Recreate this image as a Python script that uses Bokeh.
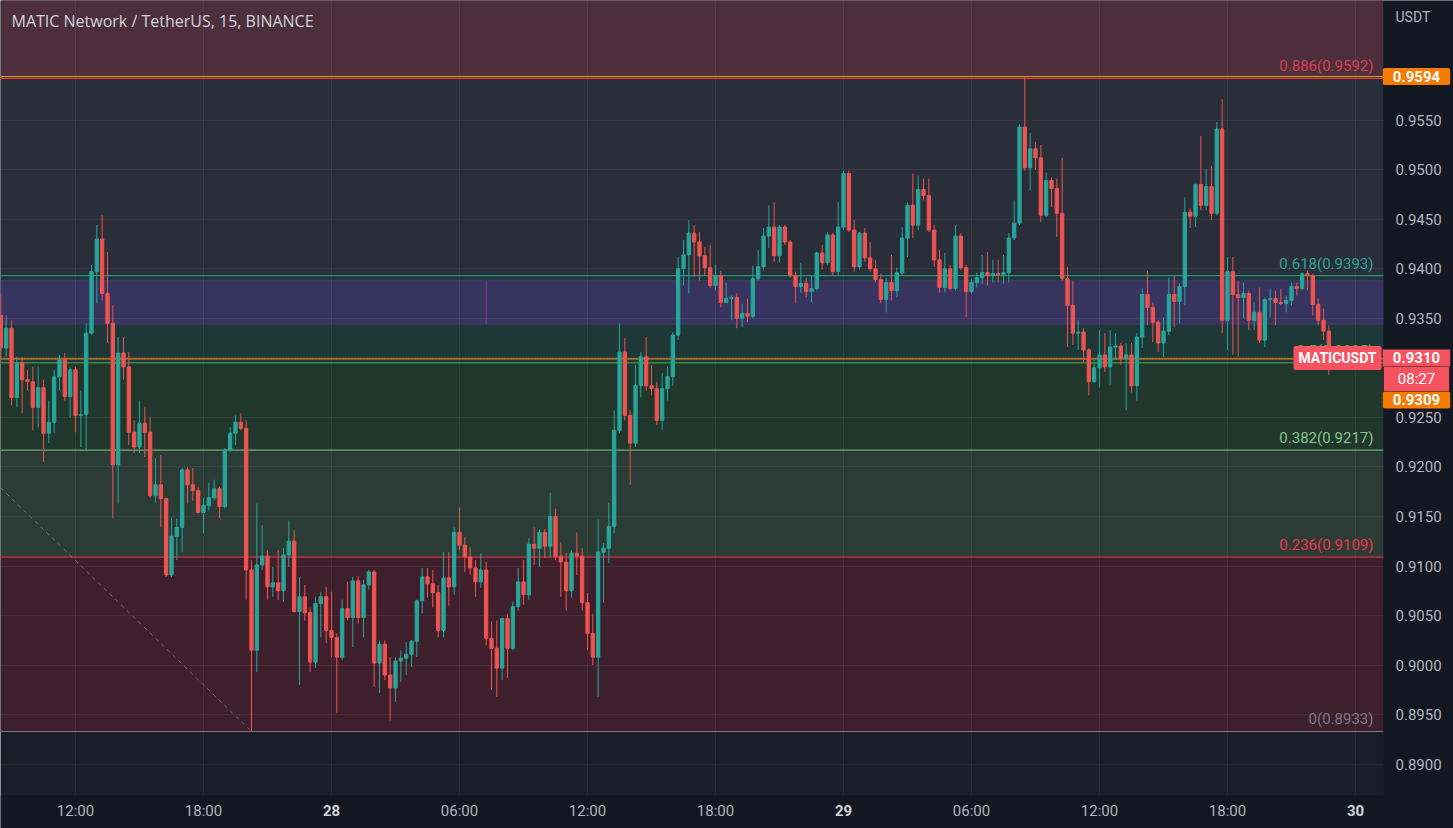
import numpy as np
from bokeh.plotting import figure
from bokeh.models import Range1d, FixedTicker, Span, BoxAnnotation, Label, ColumnDataSource
from bokeh.core.properties import value
from bokeh.embed import file_html
from bokeh.resources import INLINE

title_text = "MATIC Network / TetherUS, 15, BINANCE"
# 15-minute bars; bar 0 = 27th 12:00
bars = list(range(-14, 236))

opens = [
    0.9353,0.9320,0.9340,0.9270,0.9305,0.9288,0.9286,0.9260,0.9280,0.9234,
    0.9245,0.9291,0.9308,0.9271,0.9298,0.9252,0.9253,0.9335,0.9397,0.9430,
    0.9375,0.9345,0.9202,0.9315,0.9301,0.9235,0.9220,0.9244,0.9235,0.9171,
    0.9182,0.9168,0.9091,0.9130,0.9139,0.9197,0.9182,0.9176,0.9154,0.9161,
    0.9169,0.9178,0.9160,0.9217,0.9234,0.9245,0.9239,0.9096,0.9015,0.9101,
    0.9110,0.9079,0.9083,0.9075,0.9111,0.9125,0.9054,0.9069,0.9053,0.9003,
    0.9062,0.9069,0.9035,0.9028,0.9008,0.9057,0.9048,0.9085,0.9048,0.9081,
    0.9094,0.9002,0.9021,0.8990,0.8977,0.9004,0.9007,0.9011,0.9024,0.9065,
    0.9089,0.9082,0.9073,0.9035,0.9088,0.9079,0.9134,0.9121,0.9109,0.9098,
    0.9084,0.9096,0.9027,0.9017,0.8997,0.9047,0.9017,0.9059,0.9084,0.9071,
    0.9122,0.9118,0.9134,0.9120,0.9150,0.9110,0.9104,0.9075,0.9113,0.9110,
    0.9063,0.9032,0.9008,0.9114,0.9118,0.9140,0.9237,0.9316,0.9252,0.9224,
    0.9282,0.9311,0.9282,0.9279,0.9247,0.9279,0.9291,0.9333,0.9400,0.9414,
    0.9436,0.9427,0.9413,0.9401,0.9383,0.9393,0.9366,0.9370,0.9371,0.9350,
    0.9355,0.9352,0.9390,0.9402,0.9433,0.9442,0.9413,0.9442,0.9427,0.9393,
    0.9382,0.9385,0.9377,0.9380,0.9416,0.9406,0.9434,0.9397,0.9442,0.9496,
    0.9439,0.9402,0.9436,0.9411,0.9400,0.9389,0.9369,0.9386,0.9378,0.9396,
    0.9431,0.9464,0.9444,0.9480,0.9474,0.9439,0.9409,0.9381,0.9400,0.9380,
    0.9433,0.9401,0.9377,0.9386,0.9391,0.9396,0.9393,0.9395,0.9394,0.9396,
    0.9431,0.9446,0.9543,0.9502,0.9521,0.9512,0.9454,0.9489,0.9481,0.9456,
    0.9390,0.9363,0.9335,0.9336,0.9318,0.9286,0.9300,0.9313,0.9301,0.9321,
    0.9322,0.9310,0.9313,0.9282,0.9331,0.9374,0.9361,0.9346,0.9325,0.9337,
    0.9374,0.9367,0.9382,0.9457,0.9453,0.9485,0.9464,0.9483,0.9456,0.9541,
    0.9348,0.9397,0.9374,0.9371,0.9375,0.9348,0.9356,0.9328,0.9369,0.9370,
    0.9366,0.9365,0.9368,0.9382,0.9380,0.9395,0.9393,0.9364,0.9348,0.9337,
]
highs = [
    0.9375,0.9353,0.9348,0.9311,0.9311,0.9298,0.9301,0.9301,0.9288,0.9267,
    0.9298,0.9313,0.9315,0.9301,0.9301,0.9277,0.9345,0.9404,0.9444,0.9454,
    0.9417,0.9363,0.9331,0.9331,0.9316,0.9247,0.9267,0.9260,0.9250,0.9209,
    0.9212,0.9169,0.9149,0.9148,0.9199,0.9200,0.9199,0.9180,0.9169,0.9184,
    0.9187,0.9180,0.9219,0.9240,0.9252,0.9254,0.9247,0.9106,0.9163,0.9141,
    0.9116,0.9099,0.9116,0.9118,0.9146,0.9136,0.9089,0.9081,0.9058,0.9069,
    0.9074,0.9079,0.9074,0.9032,0.9066,0.9084,0.9089,0.9090,0.9086,0.9096,
    0.9096,0.9025,0.9025,0.9008,0.9008,0.9015,0.9023,0.9025,0.9066,0.9098,
    0.9098,0.9096,0.9081,0.9114,0.9114,0.9139,0.9159,0.9129,0.9119,0.9106,
    0.9113,0.9104,0.9044,0.9045,0.9048,0.9052,0.9064,0.9098,0.9106,0.9128,
    0.9139,0.9137,0.9137,0.9174,0.9158,0.9124,0.9113,0.9116,0.9134,0.9118,
    0.9073,0.9052,0.9147,0.9123,0.9164,0.9257,0.9345,0.9330,0.9257,0.9303,
    0.9316,0.9331,0.9303,0.9286,0.9295,0.9301,0.9336,0.9412,0.9429,0.9449,
    0.9444,0.9437,0.9422,0.9424,0.9404,0.9398,0.9386,0.9373,0.9375,0.9365,
    0.9370,0.9403,0.9419,0.9441,0.9464,0.9467,0.9444,0.9444,0.9429,0.9397,
    0.9406,0.9391,0.9393,0.9417,0.9424,0.9437,0.9436,0.9467,0.9499,0.9499,
    0.9449,0.9437,0.9441,0.9427,0.9409,0.9395,0.9391,0.9414,0.9401,0.9442,
    0.9467,0.9496,0.9494,0.9491,0.9491,0.9444,0.9419,0.9416,0.9404,0.9444,
    0.9436,0.9404,0.9390,0.9396,0.9414,0.9417,0.9409,0.9409,0.9414,0.9436,
    0.9469,0.9546,0.9594,0.9537,0.9528,0.9525,0.9497,0.9492,0.9491,0.9512,
    0.9402,0.9388,0.9348,0.9340,0.9320,0.9308,0.9338,0.9335,0.9338,0.9335,
    0.9325,0.9325,0.9325,0.9335,0.9380,0.9398,0.9366,0.9348,0.9351,0.9391,
    0.9393,0.9385,0.9472,0.9461,0.9486,0.9534,0.9501,0.9504,0.9548,0.9571,
    0.9412,0.9412,0.9388,0.9386,0.9378,0.9366,0.9381,0.9371,0.9380,0.9378,
    0.9380,0.9373,0.9386,0.9386,0.9396,0.9398,0.9395,0.9370,0.9360,0.9343,
]
lows = [
    0.9308,0.9311,0.9262,0.9260,0.9254,0.9277,0.9237,0.9240,0.9205,0.9224,
    0.9234,0.9277,0.9267,0.9250,0.9235,0.9220,0.9217,0.9333,0.9365,0.9368,
    0.9325,0.9148,0.9163,0.9288,0.9222,0.9214,0.9214,0.9210,0.9169,0.9164,
    0.9139,0.9089,0.9089,0.9106,0.9114,0.9163,0.9166,0.9153,0.9133,0.9156,
    0.9166,0.9148,0.9158,0.9215,0.9222,0.9237,0.9066,0.8933,0.8993,0.9096,
    0.9066,0.9069,0.9066,0.9064,0.9099,0.9053,0.8980,0.9045,0.8993,0.8997,
    0.9028,0.9022,0.9008,0.8952,0.9005,0.9045,0.9018,0.9042,0.9028,0.9076,
    0.8978,0.8972,0.8985,0.8944,0.8963,0.8983,0.8990,0.8998,0.9008,0.9052,
    0.9068,0.9058,0.9028,0.9028,0.9060,0.9071,0.9116,0.9094,0.9091,0.9069,
    0.9078,0.9020,0.8975,0.8968,0.8985,0.8987,0.9015,0.9055,0.9061,0.9066,
    0.9101,0.9099,0.9108,0.9109,0.9106,0.9069,0.9055,0.9068,0.9091,0.9055,
    0.9015,0.9000,0.8968,0.9063,0.9103,0.9133,0.9234,0.9247,0.9182,0.9220,
    0.9270,0.9277,0.9272,0.9242,0.9237,0.9267,0.9282,0.9328,0.9383,0.9375,
    0.9392,0.9388,0.9393,0.9381,0.9378,0.9361,0.9365,0.9348,0.9340,0.9341,
    0.9346,0.9350,0.9388,0.9399,0.9421,0.9407,0.9406,0.9424,0.9391,0.9365,
    0.9376,0.9371,0.9366,0.9378,0.9399,0.9404,0.9393,0.9393,0.9439,0.9437,
    0.9397,0.9399,0.9407,0.9397,0.9386,0.9365,0.9356,0.9368,0.9371,0.9393,
    0.9412,0.9431,0.9439,0.9469,0.9437,0.9402,0.9376,0.9376,0.9378,0.9378,
    0.9399,0.9351,0.9375,0.9381,0.9385,0.9383,0.9386,0.9386,0.9385,0.9386,
    0.9429,0.9444,0.9499,0.9479,0.9500,0.9447,0.9452,0.9462,0.9432,0.9388,
    0.9321,0.9323,0.9318,0.9305,0.9272,0.9285,0.9280,0.9296,0.9283,0.9308,
    0.9303,0.9257,0.9275,0.9267,0.9320,0.9343,0.9326,0.9316,0.9311,0.9333,
    0.9341,0.9345,0.9363,0.9441,0.9442,0.9459,0.9459,0.9449,0.9454,0.9335,
    0.9318,0.9313,0.9311,0.9350,0.9338,0.9338,0.9325,0.9321,0.9351,0.9343,
    0.9363,0.9356,0.9363,0.9373,0.9378,0.9378,0.9353,0.9343,0.9328,0.9293,
]
closes = [
    0.9320,0.9340,0.9270,0.9305,0.9288,0.9286,0.9260,0.9280,0.9234,0.9245,
    0.9291,0.9308,0.9271,0.9298,0.9252,0.9253,0.9335,0.9397,0.9430,0.9375,
    0.9345,0.9202,0.9315,0.9301,0.9235,0.9220,0.9244,0.9235,0.9171,0.9182,
    0.9168,0.9091,0.9130,0.9139,0.9197,0.9182,0.9176,0.9154,0.9161,0.9169,
    0.9178,0.9160,0.9217,0.9234,0.9245,0.9239,0.9096,0.9015,0.9101,0.9110,
    0.9079,0.9083,0.9075,0.9111,0.9125,0.9054,0.9069,0.9053,0.9003,0.9062,
    0.9069,0.9035,0.9028,0.9008,0.9057,0.9048,0.9085,0.9048,0.9081,0.9094,
    0.9002,0.9021,0.8990,0.8977,0.9004,0.9007,0.9011,0.9024,0.9065,0.9089,
    0.9082,0.9073,0.9035,0.9088,0.9079,0.9134,0.9121,0.9109,0.9098,0.9084,
    0.9096,0.9027,0.9017,0.8997,0.9047,0.9017,0.9059,0.9084,0.9071,0.9122,
    0.9118,0.9134,0.9120,0.9150,0.9110,0.9104,0.9075,0.9113,0.9110,0.9063,
    0.9032,0.9008,0.9114,0.9118,0.9140,0.9237,0.9316,0.9252,0.9224,0.9282,
    0.9311,0.9282,0.9279,0.9247,0.9279,0.9291,0.9333,0.9400,0.9414,0.9436,
    0.9427,0.9413,0.9401,0.9383,0.9393,0.9366,0.9370,0.9371,0.9350,0.9355,
    0.9352,0.9390,0.9402,0.9433,0.9442,0.9413,0.9442,0.9427,0.9393,0.9382,
    0.9385,0.9377,0.9380,0.9416,0.9406,0.9434,0.9397,0.9442,0.9496,0.9439,
    0.9402,0.9436,0.9411,0.9400,0.9389,0.9369,0.9386,0.9378,0.9396,0.9431,
    0.9464,0.9444,0.9480,0.9474,0.9439,0.9409,0.9381,0.9400,0.9380,0.9433,
    0.9401,0.9377,0.9386,0.9391,0.9396,0.9393,0.9395,0.9394,0.9396,0.9431,
    0.9446,0.9543,0.9502,0.9521,0.9512,0.9454,0.9489,0.9481,0.9456,0.9390,
    0.9363,0.9335,0.9336,0.9318,0.9286,0.9300,0.9313,0.9301,0.9321,0.9322,
    0.9310,0.9313,0.9282,0.9331,0.9374,0.9361,0.9346,0.9325,0.9337,0.9374,
    0.9367,0.9382,0.9457,0.9453,0.9485,0.9464,0.9483,0.9456,0.9541,0.9348,
    0.9397,0.9374,0.9371,0.9375,0.9348,0.9356,0.9328,0.9369,0.9370,0.9366,
    0.9365,0.9368,0.9382,0.9380,0.9395,0.9393,0.9364,0.9348,0.9337,0.9310,
]

# Fibonacci retracement levels
fib_ratios = ["0.886", "0.618", "0.5", "0.382", "0.236", "0"]
fib_prices = [0.9592, 0.9393, 0.9305, 0.9217, 0.9109, 0.8933]
fib_line_colors = ["#e5484d", "#22ab94", "#4caf50", "#81c784", "#f23645", "#787b86"]
fib_text_colors = ["#d9404f", "#26a69a", "#4caf50", "#81c784", "#f23645", "#787b86"]
fib_top = 0.9677
zone_colors = ["#4d2f3b", "#2a2e39", "#1e3838", "#21372e", "#2b3c37", "#3e202c"]

box_top, box_bottom, box_split_bar = 0.9388, 0.9344, 77
high_line = 0.9594
hline_price = 0.9309
last_price = 0.9310
countdown = "08:27"
trend_x = [-14.06, 33]
trend_y = [0.9179, 0.8933]

price_ticks = [0.8900, 0.8950, 0.9000, 0.9050, 0.9100, 0.9150, 0.9200, 0.9250,
               0.9350, 0.9400, 0.9450, 0.9500, 0.9550]
time_ticks = [0, 24, 48, 72, 96, 120, 144, 168, 192, 216, 240]
time_labels = ["12:00", "18:00", "28", "06:00", "12:00", "18:00", "29", "06:00", "12:00", "18:00", "30"]
day_labels = {"28", "29", "30"}

UP, DOWN = "#26a69a", "#ef5350"
FONT = "Roboto"
AXIS_TXT = "#b2b5be"
AXIS_BG = "#131722"

# ---- layout of the chart pane inside the full canvas ----
W, H = 1453, 828
PANE_W, PANE_H = 1383, 795
x_left, x_pane_right = -14.06, 245.25
y_pane_bottom, y_top = 0.88684, 0.96707
bar_per_px = (x_pane_right - x_left) / PANE_W
price_per_px = (y_top - y_pane_bottom) / PANE_H
x_full_right = x_left + W * bar_per_px
y_full_bottom = y_pane_bottom - (H - PANE_H) * price_per_px

p = figure(width=W, height=H, x_range=Range1d(x_left, x_full_right), y_range=Range1d(y_full_bottom, y_top),
           output_backend="svg", toolbar_location=None, x_axis_location=None, y_axis_location=None,
           min_border_left=0, min_border_top=0, min_border_right=0, min_border_bottom=0,
           background_fill_color="#1b1e28", border_fill_color=AXIS_BG, outline_line_color=None)

# zones
bounds = [fib_top] + fib_prices
for i, col in enumerate(zone_colors):
    p.add_layout(BoxAnnotation(bottom=bounds[i + 1], top=bounds[i], right=x_pane_right, fill_color=col,
                               fill_alpha=1.0, line_color=None, level="image"))
p.add_layout(BoxAnnotation(bottom=box_bottom, top=box_top, right=x_pane_right, fill_color="#383460",
                           fill_alpha=1.0, line_color="#7e3fa8", line_width=1, level="image"))

# grid
p.xgrid.ticker = FixedTicker(ticks=time_ticks)
p.ygrid.ticker = FixedTicker(ticks=price_ticks)
p.grid.grid_line_color = "#ffffff"
p.grid.grid_line_alpha = 0.05

# horizontal lines
for pr, col in zip(fib_prices, fib_line_colors):
    p.add_layout(Span(location=pr, dimension="width", line_color=col, line_width=1, level="underlay"))
p.add_layout(Span(location=high_line, dimension="width", line_color="#ff9800", line_width=1, level="underlay"))
p.add_layout(Span(location=hline_price, dimension="width", line_color="#ff9800", line_width=1, level="underlay"))
p.add_layout(Span(location=last_price, dimension="width", line_color="#f7525f", line_width=1,
                  line_dash="1 2", level="underlay"))

# axis panes (cover grid / lines that run past the chart pane)
p.quad(left=[x_pane_right], right=[x_full_right], bottom=[y_full_bottom], top=[y_top],
       fill_color=AXIS_BG, line_color=None)
p.quad(left=[x_left], right=[x_full_right], bottom=[y_full_bottom], top=[y_pane_bottom],
       fill_color=AXIS_BG, line_color=None)

p.segment(x0=[box_split_bar], y0=[box_bottom], x1=[box_split_bar], y1=[box_top], line_color="#7e3fa8", line_width=1)
p.line(trend_x, trend_y, line_color="#9598a1", line_alpha=0.6, line_width=1, line_dash="4 4")

# candles
o = np.array(opens); c = np.array(closes); h = np.array(highs); l = np.array(lows); x = np.array(bars)
for mask, col in ((c >= o, UP), (c < o, DOWN)):
    src = ColumnDataSource(dict(x=x[mask], o=o[mask], c=c[mask], h=h[mask], l=l[mask]))
    p.segment(x0="x", y0="l", x1="x", y1="h", line_color=col, line_width=1, source=src)
    p.vbar(x="x", width=0.62, top="c", bottom="o", fill_color=col, line_color=col, line_width=1, source=src)

# price scale labels
p.text(x=[x_pane_right] * len(price_ticks), y=price_ticks, text=[f"{t:.4f}" for t in price_ticks],
       x_offset=12, text_align="left", text_baseline="middle", text_color=AXIS_TXT,
       text_font=value(FONT), text_font_size="15px")
p.text(x=[x_pane_right], y=[y_top - 16 * price_per_px], text=["USDT"], x_offset=12, text_align="left",
       text_baseline="middle", text_color=AXIS_TXT, text_font=value(FONT), text_font_size="14px")

# time scale labels
time_y = y_pane_bottom - 15 * price_per_px
reg = [(t, lab) for t, lab in zip(time_ticks, time_labels) if lab not in day_labels]
day = [(t, lab) for t, lab in zip(time_ticks, time_labels) if lab in day_labels]
p.text(x=[t for t, _ in reg], y=[time_y] * len(reg), text=[lab for _, lab in reg], text_align="center",
       text_baseline="middle", text_color=AXIS_TXT, text_font=value(FONT), text_font_size="15px")
p.text(x=[t for t, _ in day], y=[time_y] * len(day), text=[lab for _, lab in day], text_align="center",
       text_baseline="middle", text_color="#d1d4dc", text_font=value(FONT), text_font_size="15px",
       text_font_style="bold")

# fib texts
for r, pr, col in zip(fib_ratios, fib_prices, fib_text_colors):
    p.add_layout(Label(x=1373, x_units="screen", y=pr, y_units="data", text=f"{r}({pr:.4f})",
                       text_align="right", text_baseline="bottom", y_offset=3, text_color=col,
                       text_font=FONT, text_font_size="15px"))

# title
p.add_layout(Label(x=11, y=y_top - 20 * price_per_px, x_units="screen", y_units="data", text=title_text,
                   text_baseline="middle", text_color="#d1d4dc", text_font="Open Sans", text_font_size="16px"))

tag_x = (x_pane_right + x_full_right) / 2 - 2 * bar_per_px
pad = dict(left=10, right=10, top=3, bottom=3)
p.add_layout(Label(x=tag_x, y=high_line, text=f"{high_line:.4f}",
                   text_align="center", text_baseline="middle", text_color="white", text_font=FONT,
                   text_font_size="15px", text_font_style="bold", background_fill_color="#f57c00",
                   padding=pad, border_radius=2))
p.add_layout(Label(x=1337, x_units="screen", y=last_price, y_units="data", text="MATICUSDT",
                   text_align="center", text_baseline="middle", text_color="white", text_font=FONT,
                   text_font_size="14px", text_font_style="bold", background_fill_color="#f7525f",
                   padding=dict(left=5, right=5, top=4, bottom=4), border_radius=2))
p.add_layout(Label(x=tag_x, y=last_price, text=f"{last_price:.4f}",
                   text_align="center", text_baseline="middle", text_color="white", text_font=FONT,
                   text_font_size="15px", text_font_style="bold", background_fill_color="#f7525f",
                   padding=pad))
p.add_layout(Label(x=tag_x, y=last_price, y_offset=-21, text=countdown,
                   text_align="center", text_baseline="middle", text_color="white", text_font=FONT,
                   text_font_size="15px", background_fill_color="#f7525f",
                   padding=dict(left=14, right=14, top=3, bottom=3)))
p.add_layout(Label(x=tag_x, y=hline_price, y_offset=-41, text=f"{hline_price:.4f}",
                   text_align="center", text_baseline="middle", text_color="white", text_font=FONT,
                   text_font_size="15px", text_font_style="bold", background_fill_color="#f57c00",
                   padding=pad, border_radius=2))

open("out.html", "w").write(file_html(p, INLINE))
